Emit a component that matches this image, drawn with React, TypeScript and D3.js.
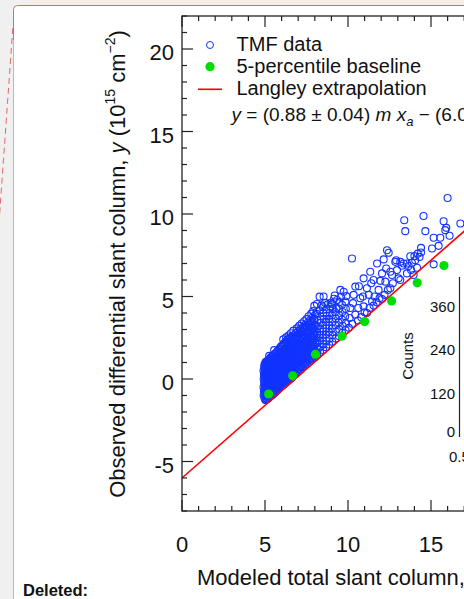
import React, { useEffect } from 'react';
import * as d3 from 'd3';

const tmfCore: [number, number][] = [
  [4.92,-1.0],[4.94,-0.75],[4.91,-0.5],[4.95,-0.26],[4.92,0.0],[4.94,0.26],[4.91,0.5],[4.95,0.74],
  [5.02,-1.28],[5.04,-1.05],[5.01,-0.82],[5.03,-0.6],[5.05,-0.37],[5.02,-0.15],[5.04,0.08],[5.01,0.3],[5.03,0.53],[5.05,0.75],[5.02,0.98],
  [5.12,-1.22],[5.14,-0.97],[5.11,-0.74],[5.13,-0.5],[5.15,-0.27],[5.12,-0.05],[5.14,0.18],[5.11,0.41],[5.13,0.63],[5.15,0.86],[5.12,1.08],
  [5.23,-1.13],[5.25,-0.9],[5.22,-0.67],[5.24,-0.43],[5.26,-0.2],[5.23,0.03],[5.25,0.26],[5.22,0.48],[5.24,0.71],[5.26,0.93],[5.23,1.16],
  [5.34,-1.03],[5.36,-0.8],[5.33,-0.56],[5.35,-0.33],[5.37,-0.1],[5.34,0.12],[5.36,0.35],[5.33,0.58],[5.35,0.81],[5.37,1.04],[5.34,1.3],
  [5.46,-0.95],[5.48,-0.71],[5.45,-0.47],[5.47,-0.24],[5.49,0.0],[5.46,0.22],[5.48,0.45],[5.45,0.68],[5.47,0.9],[5.49,1.13],[5.46,1.38],
  [5.58,-0.85],[5.6,-0.61],[5.57,-0.38],[5.59,-0.15],[5.61,0.08],[5.58,0.31],[5.6,0.54],[5.57,0.77],[5.59,1.0],[5.61,1.23],[5.58,1.5],
  [5.7,-0.73],[5.72,-0.5],[5.69,-0.27],[5.71,-0.04],[5.73,0.18],[5.7,0.41],[5.72,0.64],[5.69,0.87],[5.71,1.09],[5.73,1.33],[5.7,1.62],
  [5.82,-0.61],[5.84,-0.38],[5.81,-0.15],[5.83,0.08],[5.85,0.3],[5.82,0.53],[5.84,0.76],[5.81,0.99],[5.83,1.21],[5.85,1.46],[5.82,1.76],
  [5.95,-0.49],[5.97,-0.25],[5.94,-0.02],[5.96,0.21],[5.98,0.43],[5.95,0.66],[5.97,0.89],[5.94,1.11],[5.96,1.35],[5.98,1.6],[5.95,1.95],
  [6.08,-0.38],[6.1,-0.15],[6.07,0.08],[6.09,0.31],[6.11,0.53],[6.08,0.76],[6.1,0.99],[6.07,1.22],[6.09,1.46],[6.11,1.72],[6.08,2.06],
  [6.2,-0.28],[6.22,-0.05],[6.19,0.18],[6.21,0.41],[6.23,0.63],[6.2,0.86],[6.22,1.09],[6.19,1.32],[6.21,1.56],[6.23,1.83],[6.2,2.2],
  [6.33,-0.16],[6.35,0.08],[6.32,0.31],[6.34,0.53],[6.36,0.76],[6.33,0.99],[6.35,1.21],[6.32,1.45],[6.34,1.7],[6.36,1.96],[6.33,2.35],
  [6.46,-0.05],[6.48,0.19],[6.45,0.42],[6.47,0.65],[6.49,0.88],[6.46,1.11],[6.48,1.35],[6.45,1.6],[6.47,1.85],[6.49,2.11],[6.46,2.45],
  [6.6,0.06],[6.62,0.31],[6.59,0.55],[6.61,0.8],[6.63,1.03],[6.6,1.26],[6.62,1.5],[6.59,1.75],[6.61,2.0],[6.63,2.3],[6.6,2.58],
];

const tmfCoreFill: [number, number][] = [
  [4.97,-1.15],[4.98,-0.9],[4.96,-0.62],[4.99,-0.38],[4.97,-0.12],[4.98,0.14],[4.96,0.38],[4.99,0.62],[4.97,0.87],
  [5.07,-1.25],[5.08,-0.93],[5.06,-0.7],[5.09,-0.48],[5.07,-0.26],[5.08,-0.03],[5.06,0.2],[5.09,0.42],[5.07,0.64],[5.08,0.87],[5.06,1.05],
  [5.18,-1.18],[5.19,-0.85],[5.17,-0.62],[5.2,-0.38],[5.18,-0.16],[5.19,0.07],[5.17,0.3],[5.2,0.52],[5.18,0.75],[5.19,0.97],[5.17,1.12],
  [5.29,-1.08],[5.3,-0.85],[5.28,-0.62],[5.31,-0.38],[5.29,-0.15],[5.3,0.08],[5.28,0.3],[5.31,0.53],[5.29,0.76],[5.3,0.98],[5.28,1.22],
  [5.4,-1.0],[5.41,-0.75],[5.39,-0.52],[5.42,-0.29],[5.4,-0.05],[5.41,0.17],[5.39,0.4],[5.42,0.63],[5.4,0.86],[5.41,1.08],[5.39,1.34],
  [5.52,-0.9],[5.53,-0.66],[5.51,-0.42],[5.54,-0.2],[5.52,0.04],[5.53,0.27],[5.51,0.5],[5.54,0.72],[5.52,0.95],[5.53,1.18],[5.51,1.44],
  [5.64,-0.79],[5.65,-0.55],[5.63,-0.32],[5.66,-0.1],[5.64,0.13],[5.65,0.36],[5.63,0.59],[5.66,0.82],[5.64,1.05],[5.65,1.28],[5.63,1.56],
  [5.76,-0.67],[5.77,-0.44],[5.75,-0.21],[5.78,0.02],[5.76,0.24],[5.77,0.47],[5.75,0.7],[5.78,0.93],[5.76,1.15],[5.77,1.4],[5.75,1.69],
  [5.88,-0.55],[5.89,-0.32],[5.87,-0.08],[5.9,0.14],[5.88,0.37],[5.89,0.6],[5.87,0.82],[5.9,1.05],[5.88,1.28],[5.89,1.53],[5.87,1.85],
  [6.01,-0.43],[6.02,-0.2],[6.0,0.03],[6.03,0.26],[6.01,0.48],[6.02,0.71],[6.0,0.94],[6.03,1.17],[6.01,1.41],[6.02,1.66],[6.0,2.0],
  [6.14,-0.33],[6.15,-0.1],[6.13,0.13],[6.16,0.36],[6.14,0.58],[6.15,0.81],[6.13,1.04],[6.16,1.27],[6.14,1.51],[6.15,1.77],[6.13,2.13],
  [6.26,-0.22],[6.27,0.01],[6.25,0.24],[6.28,0.47],[6.26,0.69],[6.27,0.92],[6.25,1.15],[6.28,1.39],[6.26,1.63],[6.27,1.9],[6.25,2.27],
  [6.39,-0.1],[6.4,0.13],[6.38,0.36],[6.41,0.59],[6.39,0.82],[6.4,1.05],[6.38,1.28],[6.41,1.52],[6.39,1.77],[6.4,2.03],[6.38,2.4],
  [6.53,0.0],[6.54,0.25],[6.52,0.48],[6.55,0.72],[6.53,0.95],[6.54,1.18],[6.52,1.42],[6.55,1.67],[6.53,1.92],[6.54,2.2],[6.52,2.5],
  [6.66,0.12],[6.67,0.4],[6.65,0.66],[6.68,0.9],[6.66,1.16],[6.67,1.4],[6.65,1.63],[6.68,1.88],[6.66,2.15],[6.67,2.45],
  [6.79,0.35],[6.8,0.64],[6.78,0.92],[6.81,1.23],[6.79,1.52],[6.8,1.83],[6.78,2.12],[6.81,2.45],
  [6.92,0.5],[6.93,0.83],[6.91,1.1],[6.94,1.38],[6.92,1.68],[6.93,2.0],[6.91,2.32],[6.94,2.62],
  [7.05,0.62],[7.06,0.95],[7.04,1.22],[7.07,1.52],[7.05,1.85],[7.06,2.15],[7.04,2.45],[7.07,2.78],
  [7.19,0.75],[7.2,1.05],[7.18,1.35],[7.21,1.66],[7.19,1.98],[7.2,2.3],[7.18,2.6],[7.21,2.9],
  [7.33,0.88],[7.34,1.18],[7.32,1.48],[7.35,1.8],[7.33,2.1],[7.34,2.42],[7.32,2.72],[7.35,3.0],
  [7.47,1.0],[7.48,1.3],[7.46,1.62],[7.49,1.93],[7.47,2.25],[7.48,2.56],[7.46,2.88],[7.49,3.18],
  [7.62,1.12],[7.63,1.45],[7.61,1.75],[7.64,2.08],[7.62,2.4],[7.63,2.72],[7.61,3.02],[7.64,3.3],
  [7.77,1.25],[7.78,1.58],[7.76,1.9],[7.79,2.22],[7.77,2.55],[7.78,2.86],[7.76,3.18],[7.79,3.48],
  [7.93,1.38],[7.94,1.72],[7.92,2.05],[7.95,2.38],[7.93,2.7],[7.94,3.02],[7.92,3.32],[7.95,3.65],
];

const tmfMid: [number, number][] = [
  [6.72,0.2],[6.75,0.5],[6.7,0.77],[6.74,1.02],[6.71,1.3],[6.76,1.6],[6.73,1.9],[6.7,2.2],[6.75,2.66],
  [6.85,0.31],[6.88,0.62],[6.83,0.9],[6.87,1.17],[6.84,1.46],[6.89,1.76],[6.86,2.06],[6.83,2.4],[6.87,2.79],
  [6.98,0.43],[7.01,0.71],[6.96,1.0],[7.0,1.3],[6.97,1.61],[7.02,1.9],[6.99,2.21],[6.96,2.55],[7.0,2.91],
  [7.12,0.56],[7.15,0.86],[7.1,1.13],[7.14,1.45],[7.11,1.76],[7.16,2.06],[7.13,2.38],[7.1,2.7],[7.14,3.03],
  [7.26,0.69],[7.29,0.99],[7.24,1.29],[7.28,1.58],[7.25,1.9],[7.3,2.21],[7.27,2.51],[7.24,2.85],[7.28,3.15],
  [7.4,0.81],[7.43,1.11],[7.38,1.42],[7.42,1.73],[7.39,2.03],[7.44,2.35],[7.41,2.66],[7.38,3.0],[7.42,3.28],
  [7.55,0.93],[7.58,1.25],[7.53,1.56],[7.57,1.86],[7.54,2.18],[7.59,2.5],[7.56,2.81],[7.53,3.12],[7.57,3.41],
  [7.7,1.06],[7.73,1.38],[7.68,1.7],[7.72,2.01],[7.69,2.32],[7.74,2.63],[7.71,2.95],[7.68,3.25],[7.72,3.56],
  [7.85,1.19],[7.88,1.5],[7.83,1.83],[7.87,2.15],[7.84,2.46],[7.89,2.78],[7.86,3.1],[7.83,3.41],[7.87,3.73],
  [8.0,1.31],[8.03,1.63],[7.98,1.96],[8.02,2.28],[7.99,2.6],[8.04,2.92],[8.01,3.25],[7.98,3.56],[8.02,3.89],
  [7.97,4.43],[8.13,4.55],[8.29,4.99],
  [8.15,1.46],[8.18,1.81],[8.13,2.16],[8.17,2.5],[8.14,2.86],[8.19,3.2],[8.16,3.56],[8.12,3.95],
  [8.32,1.61],[8.35,1.96],[8.3,2.31],[8.34,2.68],[8.31,3.05],[8.36,3.41],[8.33,3.8],[8.3,4.16],
  [8.5,1.76],[8.53,2.11],[8.48,2.5],[8.52,2.88],[8.49,3.26],[8.54,3.63],[8.51,4.0],[8.48,4.35],[8.53,5.0],
  [8.68,1.93],[8.71,2.3],[8.66,2.69],[8.7,3.06],[8.67,3.45],[8.72,3.83],[8.69,4.21],
  [8.86,2.09],[8.89,2.46],[8.84,2.86],[8.88,3.25],[8.85,3.63],[8.9,4.0],[8.93,4.38],[8.96,4.62],
  [9.05,2.26],[9.08,2.66],[9.03,3.06],[9.07,3.46],[9.04,3.86],[9.09,4.25],[9.06,4.55],
  [9.25,2.46],[9.28,2.86],[9.23,3.26],[9.27,3.66],[9.22,4.06],[9.3,4.32],[9.34,4.79],
  [9.45,2.61],[9.48,3.01],[9.43,3.43],[9.47,3.86],[9.44,4.26],[9.49,4.66],[9.54,5.4],
  [9.65,2.79],[9.68,3.21],[9.63,3.61],[9.67,4.06],[9.64,4.5],[9.74,5.29],
  [9.85,2.96],[9.88,3.39],[9.83,3.81],[9.87,4.26],[9.84,4.7],[9.9,5.02],
];

// ragged upper edge of the dense cloud
const tmfEdge: [number, number][] = [
  [6.27,2.52],[6.42,2.64],[6.56,2.77],[6.71,2.93],[6.91,3.07],[7.06,3.22],[7.21,3.36],[7.36,3.5],
  [7.5,3.63],[7.63,3.8],[7.79,3.96],[7.9,4.12],[8.41,4.46],[8.62,4.62],[8.78,4.52],[9.16,4.86],
  [9.58,4.97],[9.2,5.06],[6.1,2.4],[5.55,1.75],[5.25,1.4],
];

const tmfSparse: [number, number][] = [
  [10.05,3.1],[10.1,3.7],[10.14,4.3],[10.24,7.3],[10.25,3.35],[10.3,4.6],[10.34,5.1],[10.44,5.6],[10.44,3.9],
  [10.6,3.55],[10.62,4.3],[10.66,5.62],[10.74,4.9],[10.8,3.75],[10.9,5.0],[10.94,4.4],[10.94,6.1],[11.0,4.05],
  [11.14,5.5],[11.14,4.0],[11.25,5.1],[11.3,4.3],[11.34,6.5],[11.4,5.8],[11.45,4.7],[11.54,6.0],[11.54,4.45],
  [11.6,5.0],[11.72,4.65],[11.75,7.0],[11.84,5.4],[11.9,4.9],[11.95,5.95],[12.05,6.4],[12.05,4.85],[12.15,7.25],
  [12.2,5.1],[12.25,5.9],[12.3,6.7],[12.35,7.8],[12.4,5.4],[12.45,7.65],[12.55,6.5],[12.55,5.5],[12.7,5.8],
  [12.85,7.1],[12.9,7.2],
];

const tmfUpper: [number, number][] = [
  [12.65,6.3],[12.95,6.6],[13.05,6.1],[13.15,6.0],[13.15,7.1],[13.25,6.86],[13.35,7.0],[13.39,9.62],[13.45,8.96],
  [13.55,6.4],[13.55,7.0],[13.65,6.85],[13.75,7.44],[13.8,6.6],[13.85,7.05],[13.95,6.3],[14.0,7.45],[14.05,7.2],
  [14.16,6.74],[14.2,7.6],[14.31,7.4],[14.4,7.67],[14.4,7.95],[14.55,9.88],[14.66,8.96],[15.06,7.91],[15.16,6.95],
  [15.16,8.56],[15.46,8.07],[15.56,8.56],[15.76,9.56],[15.86,9.02],[15.92,9.16],[16.0,10.97],[16.12,8.68],[16.77,9.42],
];

// 5-percentile baseline
const baselineX = [5.22, 6.67, 8.04, 9.64, 11.0, 12.63, 14.17, 15.78];
const baselineY = [-0.91, 0.19, 1.5, 2.6, 3.48, 4.73, 5.83, 6.88];

// Langley extrapolation y = 0.88 m x_a - 6.0
const langleySlope = 0.88;
const langleyIntercept = -6.0;

const xMajorTicks = [0, 5, 10, 15, 20];
const yMajorTicks = [-5, 0, 5, 10, 15, 20];
const insetCountTicks = [0, 120, 240, 360];

const legendLabels = ['TMF data', '5-percentile baseline', 'Langley extrapolation'];

const W = 464;
const H = 599;
const FONT = '"Liberation Sans", Arial, sans-serif';

const x = d3.scaleLinear().domain([0, 20]).range([182, 182 + 20 * 16.6]);
const y = d3.scaleLinear().domain([-8, 22]).range([511, 16]);
const countY = d3.scaleLinear().domain([0, 440]).range([437, 277]);

const BLUE = '#1233ff';
const GREEN = '#00dd00';
const RED = '#ff0000';
const AXIS = '#222';

export default function App() {
  useEffect(() => {
    document.body.style.margin = '0';
  }, []);

  const tmf = [...tmfCore, ...tmfCoreFill, ...tmfMid, ...tmfEdge, ...tmfSparse, ...tmfUpper];
  const x0 = x.domain()[0], x1 = x.domain()[1];
  const [yLo, yHi] = y.domain();
  const xMinor = d3.range(x0, x1 + 1, 1);
  const yMinor = d3.range(yLo, yHi + 1, 1);
  const left = x(x0), right = x(x1), top = y(yHi), bottom = y(yLo);

  const line = d3.line<number>()
    .x(d => x(d))
    .y(d => y(langleySlope * d + langleyIntercept));

  return (
    <svg width={W} height={H} style={{ position: 'absolute', left: 0, top: 0, display: 'block' }}
      fontFamily={FONT}>
      <defs>
        <clipPath id="plot">
          <rect x={left} y={top} width={right - left} height={bottom - top} />
        </clipPath>
      </defs>
      {/* page / comment balloon */}
      <rect x={0} y={0} width={W} height={H} fill="#f0f0f0" />
      <rect x={13.5} y={5.5} width={W} height={H} rx={4} fill="#fff" />
      <path d={`M13.5,${H} V9.5 Q13.5,5.5 17.5,5.5 H${W + 2}`} fill="none" stroke="#e06868" strokeWidth={1} />
      <line x1={13.5} y1={40} x2={13.5} y2={H} stroke="#eaa4a4" strokeWidth={1} />
      <line x1={12.8} y1={28} x2={-0.5} y2={216} stroke="#e06868" strokeWidth={1} strokeDasharray="6,4" />
      <text x={23} y={596} fontSize={16.5} fontWeight="bold" fill="#111">Deleted:</text>

      {/* data */}
      <g clipPath="url(#plot)">
        {tmf.map((d, i) => (
          <circle key={i} cx={x(d[0])} cy={y(d[1])} r={3.5} fill="none" stroke={BLUE} strokeWidth={1.1} />
        ))}
        <path d={line([x0, x1]) || ''} fill="none" stroke={RED} strokeWidth={1.6} />
        {baselineX.map((bx, i) => (
          <circle key={i} cx={x(bx)} cy={y(baselineY[i])} r={4.6} fill={GREEN} />
        ))}
      </g>

      {/* frame and ticks */}
      <rect x={left} y={top} width={right - left} height={bottom - top} fill="none" stroke={AXIS} strokeWidth={1.3} />
      {xMinor.map(v => {
        const len = xMajorTicks.includes(v) ? 11 : 5;
        return (
          <g key={'x' + v} stroke={AXIS} strokeWidth={1.2}>
            <line x1={x(v)} x2={x(v)} y1={bottom} y2={bottom - len} />
            <line x1={x(v)} x2={x(v)} y1={top} y2={top + len} />
          </g>
        );
      })}
      {yMinor.map(v => {
        const len = yMajorTicks.includes(v) ? 11 : 5;
        return (
          <g key={'y' + v} stroke={AXIS} strokeWidth={1.2}>
            <line x1={left} x2={left + len} y1={y(v)} y2={y(v)} />
            <line x1={right} x2={right - len} y1={y(v)} y2={y(v)} />
          </g>
        );
      })}
      {xMajorTicks.map(v => (
        <text key={'xl' + v} x={x(v)} y={551.5} fontSize={22} textAnchor="middle" fill="#111">{v}</text>
      ))}
      {yMajorTicks.map(v => (
        <text key={'yl' + v} x={174} y={y(v) + 11} fontSize={22} textAnchor="end" fill="#111">{v}</text>
      ))}

      {/* axis titles */}
      <text transform="translate(125,264) rotate(-90)" fontSize={22} textAnchor="middle" fill="#111">
        {'Observed differential slant column, '}
        <tspan fontStyle="italic">y</tspan>
        {' (10'}
        <tspan dy={-10} fontSize={14}>15</tspan>
        <tspan dy={10}>{' cm'}</tspan>
        <tspan dy={-10} fontSize={14}>{'\u22122'}</tspan>
        <tspan dy={10}>)</tspan>
      </text>
      <text x={197} y={585} fontSize={22} fill="#111">
        {'Modeled total slant column, '}
        <tspan fontStyle="italic">m x</tspan>
        <tspan dy={5} fontSize={14} fontStyle="italic">a</tspan>
        <tspan dy={-5}>{' (10'}</tspan>
        <tspan dy={-10} fontSize={14}>15</tspan>
        <tspan dy={10}>{' cm'}</tspan>
        <tspan dy={-10} fontSize={14}>{'\u22122'}</tspan>
        <tspan dy={10}>)</tspan>
      </text>

      {/* legend */}
      <circle cx={210} cy={45} r={3.5} fill="none" stroke={BLUE} strokeWidth={1} />
      <circle cx={210} cy={66.7} r={4.6} fill={GREEN} />
      <line x1={198} x2={222} y1={89.3} y2={89.3} stroke={RED} strokeWidth={1.6} />
      {legendLabels.map((t, i) => (
        <text key={t} x={236.5} y={50.5 + i * 22.2} fontSize={20} fill="#111">{t}</text>
      ))}
      <text x={231.5} y={121} fontSize={19} fill="#111">
        <tspan fontStyle="italic">y</tspan>
        {' = (0.88 \u00b1 0.04) '}
        <tspan fontStyle="italic">m x</tspan>
        <tspan dy={5} fontSize={13} fontStyle="italic">a</tspan>
        <tspan dy={-5}>{' \u2212 (6.0 \u00b1 0.3)'}</tspan>
      </text>

      {/* inset histogram (cut by the page edge) */}
      <line x1={459.5} x2={459.5} y1={countY(440)} y2={countY(0)} stroke={AXIS} strokeWidth={1.2} />
      {insetCountTicks.map(v => (
        <text key={'c' + v} x={455} y={countY(v) + 5.5 - (v === 0 ? 6 : 0)} fontSize={15} textAnchor="end" fill="#111">{v}</text>
      ))}
      <text transform="translate(413,356) rotate(-90)" fontSize={15} textAnchor="middle" fill="#111">Counts</text>
      <text x={449} y={462} fontSize={15} fill="#111">0.5</text>
    </svg>
  );
}
